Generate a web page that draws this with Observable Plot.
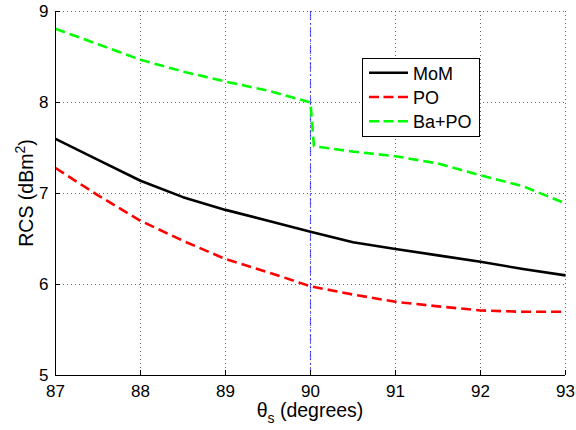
<!DOCTYPE html>
<html><head><meta charset="utf-8">
<script src="https://cdn.jsdelivr.net/npm/d3@7"></script>
<script src="https://cdn.jsdelivr.net/npm/@observablehq/plot@0.6"></script>
<style>
body{margin:0;background:#fff}
#chart{width:576px;height:430px}
</style>
</head><body><div id="chart"></div>
<script>
// Data
const theta = [87, 87.5, 88, 88.5, 89, 89.5, 90, 90.5, 91, 91.5, 92, 92.5, 93];
const mom = [7.60, 7.37, 7.14, 6.96, 6.82, 6.70, 6.58, 6.465, 6.39, 6.32, 6.25, 6.17, 6.10];
const po = [7.28, 6.98, 6.70, 6.48, 6.28, 6.135, 5.98, 5.89, 5.81, 5.76, 5.715, 5.70, 5.70];
const thetaBa = [87, 87.5, 88, 88.5, 89, 89.5, 90, 90.04, 90.5, 91, 91.5, 92, 92.5, 93];
const baPo = [8.81, 8.64, 8.47, 8.34, 8.23, 8.13, 8.00, 7.52, 7.46, 7.41, 7.33, 7.20, 7.08, 6.89];
const xTicks = [87, 88, 89, 90, 91, 92, 93];
const yTicks = [5, 6, 7, 8, 9];
const xDomain = [87, 93];
const yDomain = [5, 9];
const markerX = [90];
const seriesNames = ["MoM", "PO", "Ba+PO"];
const seriesColors = ["#000000", "#ff0000", "#00ff00"];
const seriesDash = [null, "10,5", "10,5"];

const W = 576, H = 430, mL = 55, mR = 11, mT = 11, mB = 55;
const innerW = W - mL - mR, innerH = H - mT - mB;
const font = "'Liberation Sans', Arial, Helvetica, sans-serif";

const momRows = theta.map((t, i) => ({t, v: mom[i]}));
const poRows = theta.map((t, i) => ({t, v: po[i]}));
const baRows = thetaBa.map((t, i) => ({t, v: baPo[i]}));
const seriesRows = [momRows, poRows, baRows];

const gridStyle = {stroke: "#333", strokeOpacity: 0.75, strokeDasharray: "1,3", strokeWidth: 1};

const plot = Plot.plot({
  width: W, height: H,
  marginLeft: mL, marginRight: mR, marginTop: mT, marginBottom: mB,
  style: {fontFamily: font, fontSize: "17px", background: "#fff", color: "#000"},
  x: {domain: xDomain, label: null},
  y: {domain: yDomain, label: null},
  marks: [
    Plot.gridX(xTicks, gridStyle),
    Plot.gridY(yTicks, gridStyle),
    Plot.ruleX(markerX, {x: d => d, stroke: "#0000ff", strokeOpacity: 0.6, strokeWidth: 1.2, strokeDasharray: "9,3,2,3"}),
    ...seriesRows.map((rows, i) => Plot.line(rows, {
      x: "t", y: "v", stroke: seriesColors[i], strokeWidth: 2.6,
      strokeDasharray: seriesDash[i], strokeLinecap: "butt", strokeLinejoin: "round"
    })),
    Plot.ruleX([xDomain[0]], {x: d => d, stroke: "#000", strokeWidth: 1}),
    Plot.ruleY([yDomain[0]], {y: d => d, stroke: "#000", strokeWidth: 1}),
    Plot.tickX(xTicks, {x: d => d, insetTop: innerH - 5, stroke: "#000"}),
    Plot.tickY(yTicks, {y: d => d, insetRight: innerW - 5, stroke: "#000"}),
    Plot.axisX(xTicks, {tickSize: 0, tickPadding: 9, label: null, tickFormat: d => String(d), fontSize: 17}),
    Plot.axisY(yTicks, {tickSize: 0, tickPadding: 7, label: null, tickFormat: d => String(d), fontSize: 17})
  ]
});
document.getElementById("chart").appendChild(plot);

const svg = d3.select(plot);
// y axis label
const yl = svg.append("text")
  .attr("transform", `translate(33,${mT + innerH / 2}) rotate(-90)`)
  .attr("text-anchor", "middle")
  .attr("font-family", font).attr("font-size", 19.5).attr("fill", "#000");
yl.append("tspan").text("RCS (dBm");
yl.append("tspan").attr("dy", -8).attr("font-size", 14).text("2");
yl.append("tspan").attr("dy", 8).text(")");

// x axis label
const xl = svg.append("text")
  .attr("x", mL + innerW / 2).attr("y", 417)
  .attr("text-anchor", "middle")
  .attr("font-family", font).attr("font-size", 19.5).attr("fill", "#000");
xl.append("tspan").text("θ");
xl.append("tspan").attr("dy", 6).attr("font-size", 14).text("s");
xl.append("tspan").attr("dy", -6).text(" (degrees)");

// legend
const lg = svg.append("g").attr("font-family", font).attr("font-size", 18).attr("text-anchor", "start");
lg.append("rect").attr("x", 362.5).attr("y", 58.5).attr("width", 117).attr("height", 78)
  .attr("fill", "#fff").attr("stroke", "#000").attr("stroke-width", 1);
seriesNames.forEach((name, i) => {
  const y = 72.7 + i * 24.3;
  lg.append("line").attr("x1", 369).attr("x2", 408).attr("y1", y).attr("y2", y)
    .attr("stroke", seriesColors[i]).attr("stroke-width", 2.6)
    .attr("stroke-dasharray", seriesDash[i] ? "10,4.5" : null);
  lg.append("text").attr("x", 413).attr("y", y + 6.8).attr("fill", "#000")
    .attr("text-anchor", "start").text(name);
});
</script>
</body></html>
